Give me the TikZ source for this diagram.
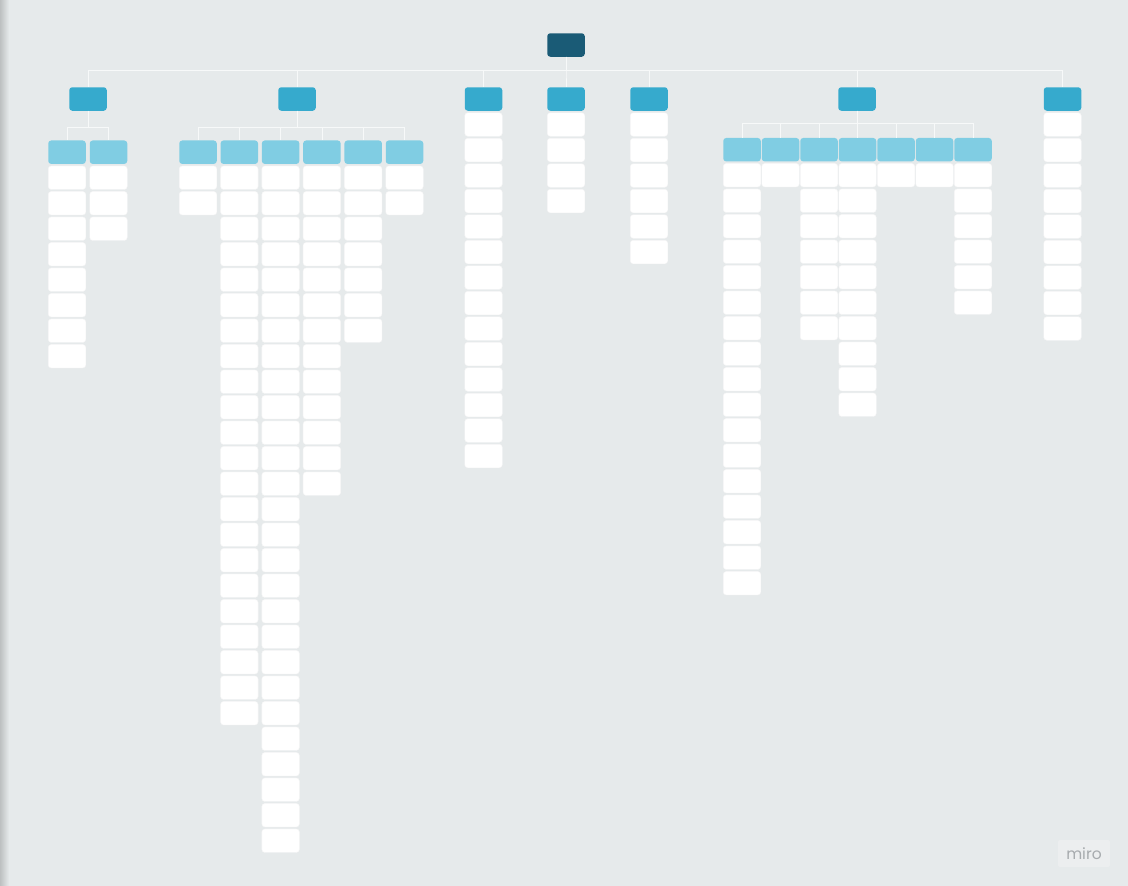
\documentclass[tikz,border=0pt]{standalone}
\usepackage{fontspec}
\newfontfamily\logofont{Poppins}

\definecolor{canvas}{HTML}{E6EAEB}
\definecolor{rootblue}{HTML}{1A5B76}
\definecolor{topicblue}{HTML}{36AACD}
\definecolor{subblue}{HTML}{80CDE3}
\definecolor{linkgray}{HTML}{F7F9F9}
\definecolor{logogray}{HTML}{A7ABAE}
\definecolor{logobox}{HTML}{ECEEEF}

\tikzset{
  card/.style={rectangle, rounded corners=3pt, inner sep=0pt, minimum width=37.5pt, minimum height=23.5pt},
  rootcard/.style={card, fill=rootblue},
  topic/.style={card, fill=topicblue},
  subtopic/.style={card, fill=subblue},
  leaf/.style={card, fill=white, draw=white!93!gray, line width=0.4pt},
  link/.style={draw=linkgray, line width=0.8pt},
}

\begin{document}
\begin{tikzpicture}[x=1pt, y=-1pt]
\useasboundingbox (0,0) rectangle (1128,886);
\fill[canvas] (0,0) rectangle (1128,886);
\shade[left color=canvas!82!black, right color=canvas] (0,0) rectangle (9,886);

% root and main topics
\node[rootcard] (root) at (566,45) {};
\foreach \t/\x in {1/88, 2/297, 3/483.5, 4/566, 5/649, 6/857, 7/1062.5}
  \node[topic] (t\t) at (\x,99) {};

% leaves straight under a topic
\foreach \t/\x/\n in {3/483.5/14, 4/566/4, 5/649/6, 7/1062.5/9}
  \foreach \k in {1,...,\n}
    \node[leaf] (t\t l\k) at (\x,99+25.5*\k) {};

% subtopics and their leaves
\foreach \t/\s/\x/\y/\n in {1/1/67/152.2/8, 1/2/108.5/152.2/3,
    2/1/198/152.2/2, 2/2/239.3/152.2/22, 2/3/280.6/152.2/27, 2/4/321.9/152.2/13,
    2/5/363.2/152.2/7, 2/6/404.5/152.2/2,
    6/1/742/149.7/17, 6/2/780.5/149.7/1, 6/3/819/149.7/7, 6/4/857.5/149.7/10,
    6/5/896/149.7/1, 6/6/934.5/149.7/1, 6/7/973/149.7/6}
{
  \node[subtopic] (t\t s\s) at (\x,\y) {};
  \foreach \k in {1,...,\n}
    \node[leaf] (t\t s\s l\k) at (\x,\y+25.5*\k) {};
}

% connectors
\foreach \t in {1,...,7}
  \draw[link] (root.south) -- ++(0,13) -| (t\t.north);
\foreach \t/\d/\m in {1/16/2, 2/16/6, 6/12/7}
  \foreach \s in {1,...,\m}
    \draw[link] (t\t.south) -- ++(0,\d) -| (t\t s\s.north);

% logo
\node[fill=logobox, rounded corners=2pt, minimum width=52pt, minimum height=27pt, inner sep=0pt,
      text=logogray, font=\logofont\fontsize{15.5}{15.5}\selectfont] (logo) at (1084,853.5) {miro};
\end{tikzpicture}
\end{document}
